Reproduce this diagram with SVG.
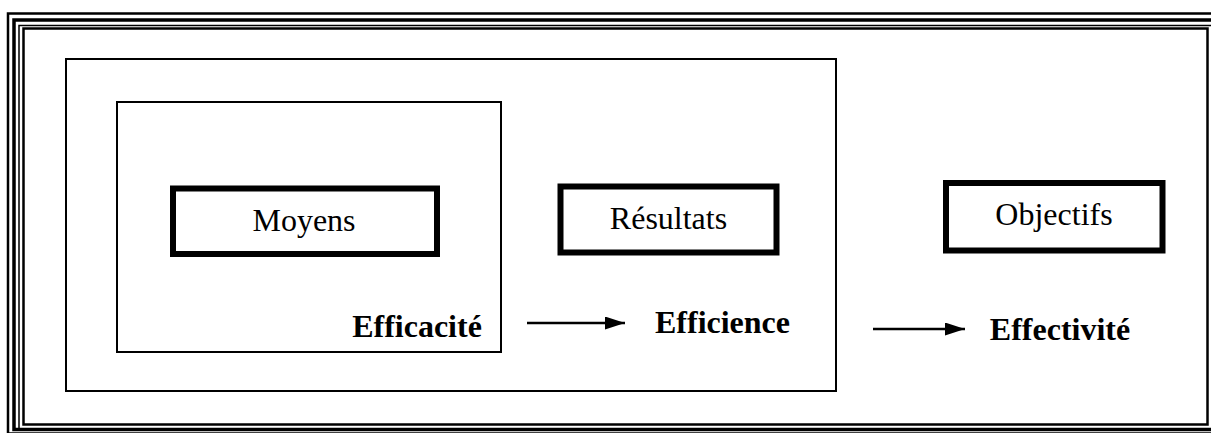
<svg xmlns="http://www.w3.org/2000/svg" width="1211" height="433" viewBox="0 0 1211 433">
<style>
.frame{fill:none;stroke:#000}
.thin{fill:none;stroke:#000;stroke-width:2}
.box{fill:none;stroke:#000;stroke-width:6}
text{font-family:'Liberation Serif','Times New Roman','DejaVu Serif',serif;fill:#000;text-anchor:middle}
.lbl{font-size:32px}
.bold{font-size:32px;font-weight:bold}
.conn{stroke:#000;stroke-width:2.5;fill:none}
</style>
<defs>
<marker id="ah2" markerWidth="20" markerHeight="13" refX="20" refY="6.5" orient="auto" markerUnits="userSpaceOnUse" viewBox="0 0 20 13">
<path d="M0,0 L20,6.5 L0,13 Z" fill="#000"/>
</marker>
</defs>
<rect width="1211" height="433" fill="#fff"/>
<g id="frame">
<rect class="frame" x="8" y="13.5" width="1210" height="420" stroke-width="2.5"/>
<rect class="frame" x="14" y="20" width="1200" height="409.5" stroke-width="3.5"/>
<rect class="frame" x="19" y="25.5" width="1195" height="404" stroke-width="1.5"/>
<rect class="frame" x="23.5" y="28.5" width="1184" height="396" stroke-width="2.5"/>
</g>
<g id="outer-box"><rect class="thin" x="66" y="59" width="770" height="332"/></g>
<g id="inner-box"><rect class="thin" x="117" y="102" width="384" height="250"/></g>
<g id="moyens">
<rect class="box" x="173" y="188.5" width="264" height="65.5"/>
<text class="lbl" x="304" y="231">Moyens</text>
</g>
<g id="resultats">
<rect class="box" x="560.5" y="186.5" width="216" height="66"/>
<text class="lbl" x="668.5" y="229">Résultats</text>
</g>
<g id="objectifs">
<rect class="box" x="946" y="183" width="216.5" height="67.5"/>
<text class="lbl" x="1054" y="225">Objectifs</text>
</g>
<g id="efficacite"><text class="bold" x="417" y="337">Efficacité</text></g>
<g id="efficience"><text class="bold" x="722.5" y="333">Efficience</text></g>
<g id="effectivite"><text class="bold" x="1060" y="340">Effectivité</text></g>
<g id="connectors">
<line class="conn" x1="527" y1="323" x2="625" y2="323" marker-end="url(#ah2)"/>
<line class="conn" x1="873" y1="329" x2="965" y2="329" stroke-width="2" marker-end="url(#ah2)"/>
</g>
</svg>
